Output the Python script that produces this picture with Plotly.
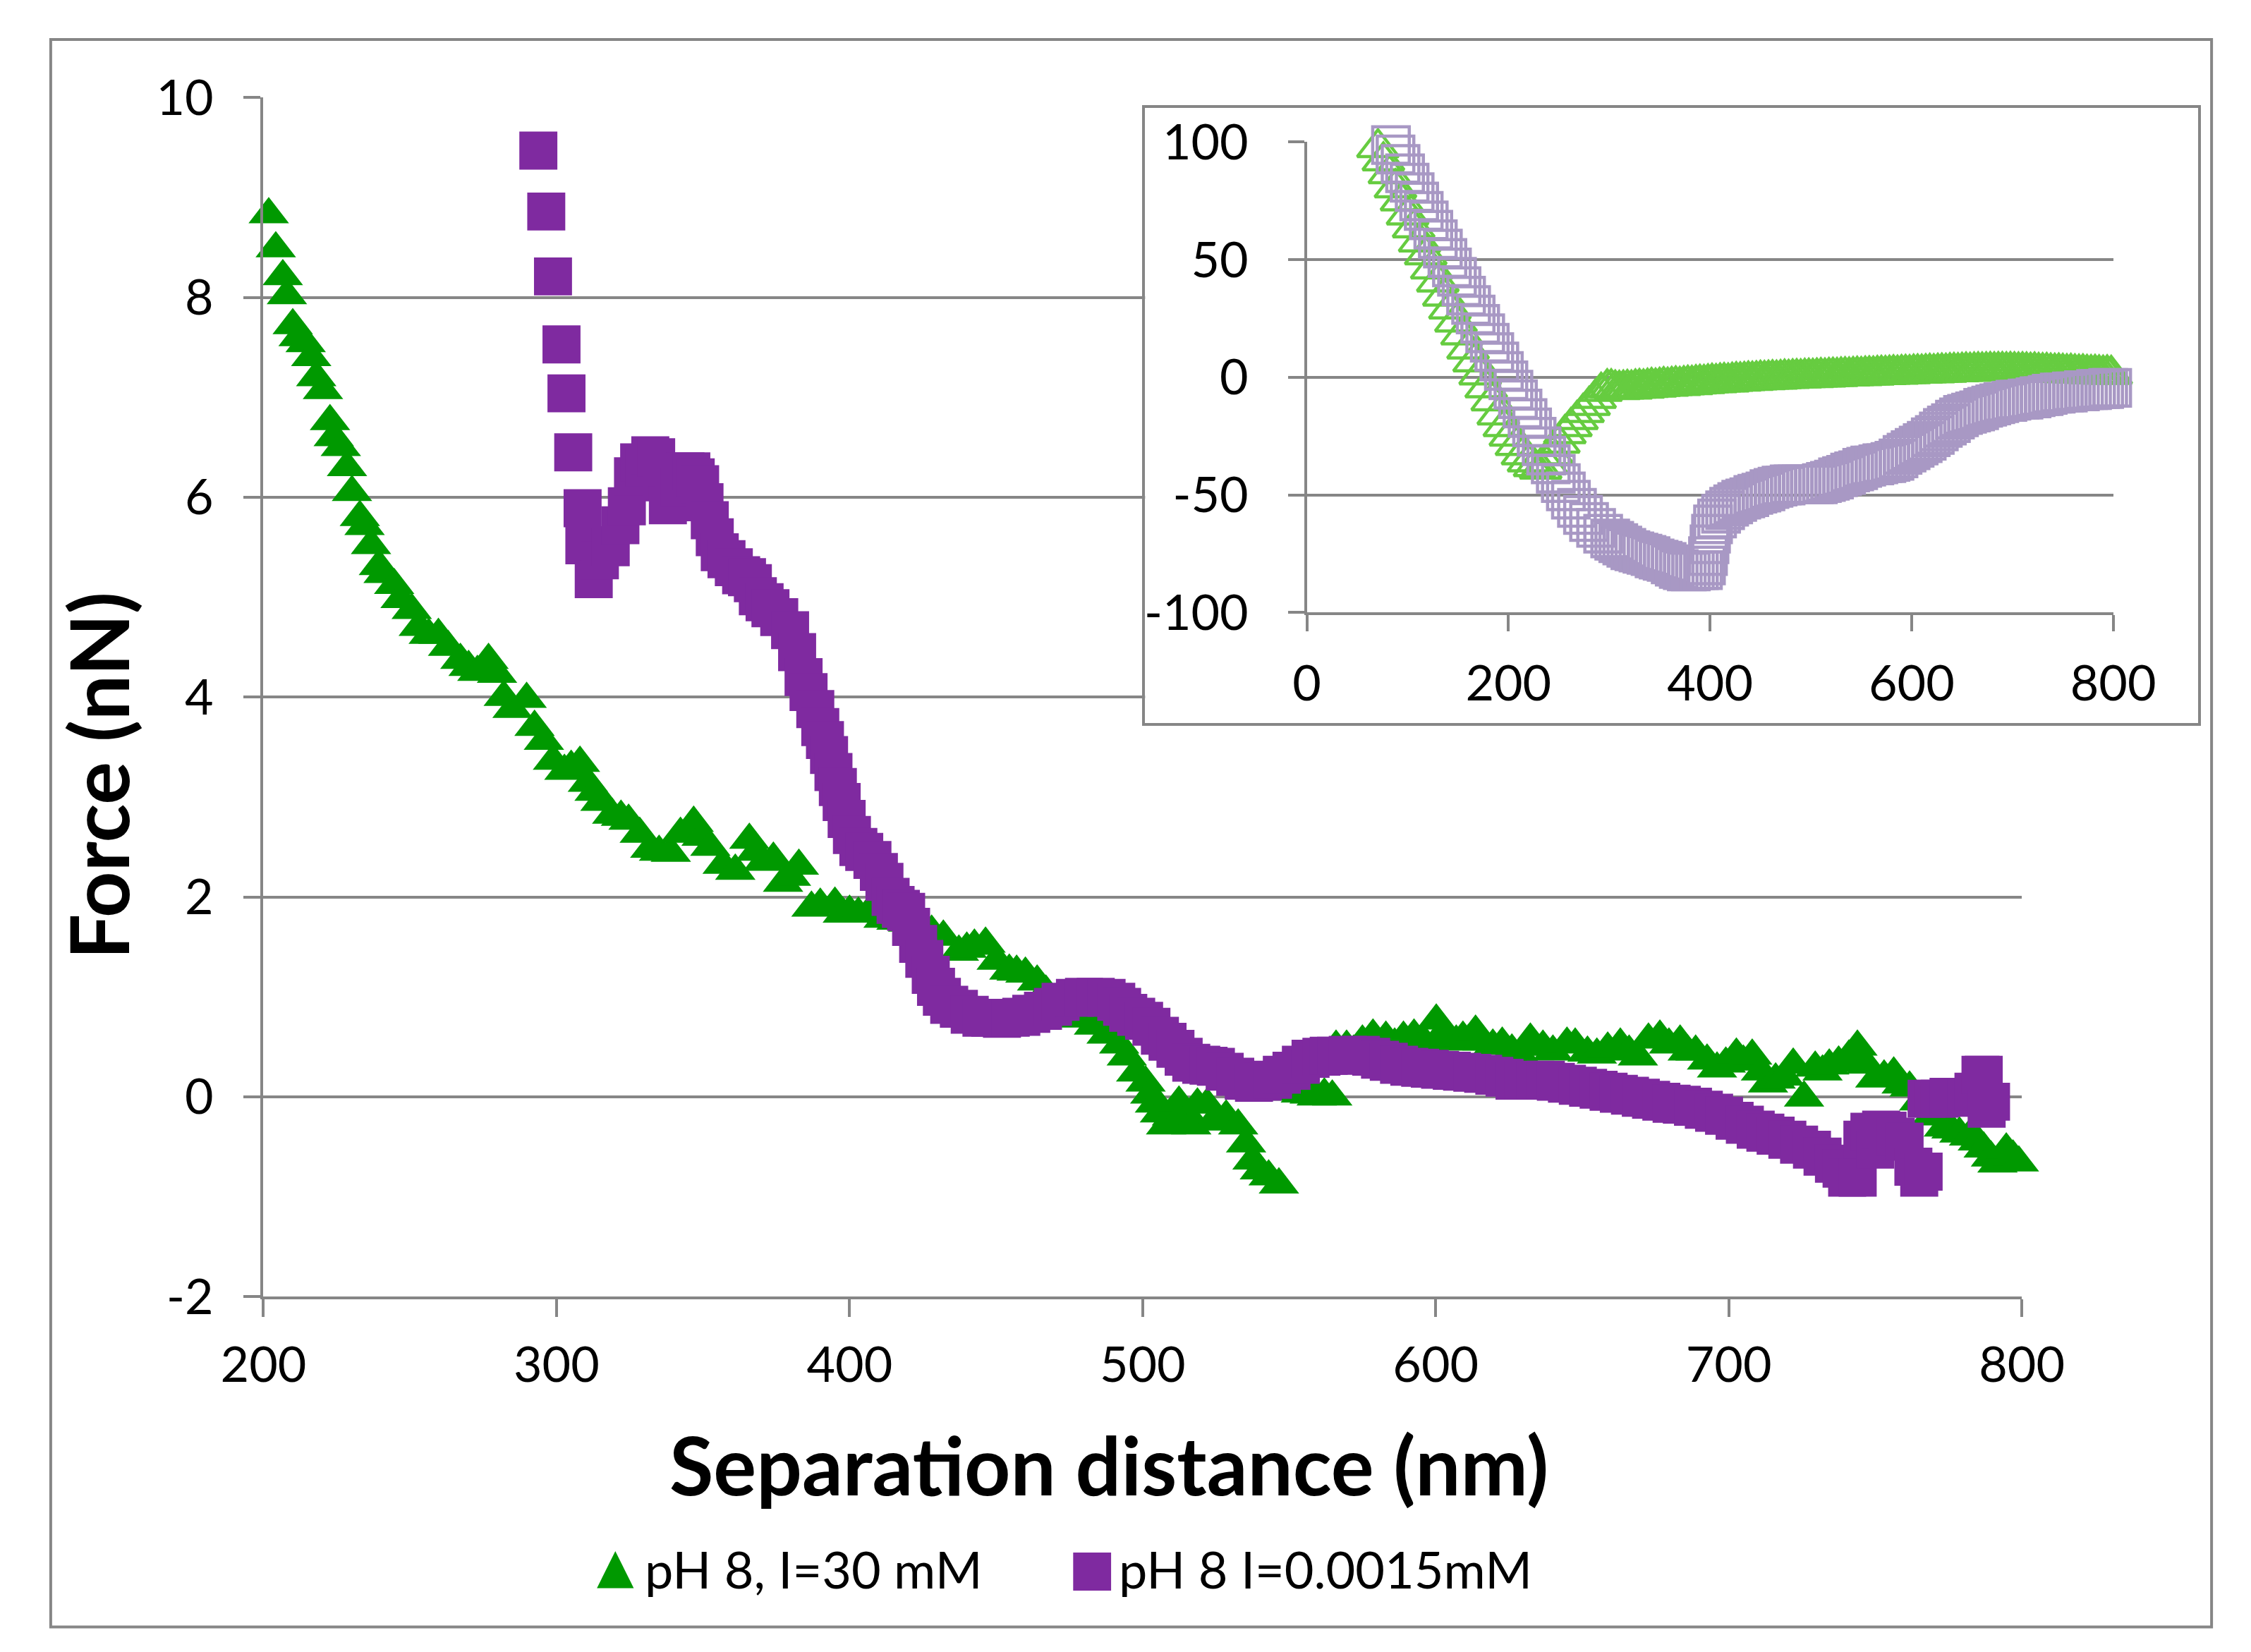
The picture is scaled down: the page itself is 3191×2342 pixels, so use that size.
import plotly.graph_objects as go

# ---------------- data: main chart ----------------
x_title = "Separation distance (nm)"
y_title = "Force (nN)"
series_names = ["pH 8, I=30 mM", "pH 8 I=0.0015mM"]

main_x_ticks = [200, 300, 400, 500, 600, 700, 800]
main_x_labels = ["200", "300", "400", "500", "600", "700", "800"]
main_y_ticks = [-2, 0, 2, 4, 6, 8, 10]
main_y_labels = ["-2", "0", "2", "4", "6", "8", "10"]
inset_x_ticks = [0, 200, 400, 600, 800]
inset_x_labels = ["0", "200", "400", "600", "800"]
inset_y_ticks = [-100, -50, 0, 50, 100]
inset_y_labels = ["-100", "-50", "0", "50", "100"]

green_x = [201.8, 204.2, 206.6, 208.0, 210.0, 212.0, 214.4, 216.3, 218.0, 220.3,
           222.7, 224.0, 226.4, 228.5, 230.2, 232.9, 234.5, 236.7, 239.4, 241.0,
           244.6, 246.8, 250.6, 253.0, 256.4, 259.7, 263.0, 267.2, 270.0, 273.0,
           276.8, 279.7, 282.0, 285.0, 289.8, 292.5, 295.7, 298.8, 302.7, 305.0,
           308.0, 310.7, 313.0, 315.0, 319.0, 322.0, 324.6, 328.4, 332.0, 335.0,
           339.0, 342.3, 346.8, 349.5, 352.5, 356.7, 361.0, 365.8, 368.0, 370.6,
           374.0, 377.3, 380.0, 382.7, 387.0, 390.0, 395.0, 397.7, 400.0, 403.0,
           407.3, 411.6, 416.0, 420.0, 424.0, 428.0, 432.0, 437.3, 440.0, 442.6,
           446.4, 450.2, 454.5, 457.0, 460.0, 464.0, 467.0, 470.0, 474.0, 478.0,
           483.4, 487.7, 492.0, 494.6, 497.8, 501.0, 502.6, 504.2, 505.9, 508.0,
           510.0, 512.4, 514.5, 516.6, 518.7, 522.0, 524.0, 528.5, 532.6, 535.3,
           537.5, 540.0, 543.0, 546.5, 548.0, 551.0, 554.0, 557.0, 559.4, 562.0,
           564.7, 566.0, 569.6, 572.0, 575.0, 578.6, 583.0, 586.0, 589.0, 592.6,
           596.0, 600.2, 602.0, 604.5, 607.0, 609.3, 611.0, 613.6, 616.0, 619.5,
           622.7, 626.0, 629.0, 632.3, 634.0, 636.6, 640.0, 644.8, 647.6, 651.8,
           655.0, 658.7, 663.0, 666.0, 669.0, 672.6, 676.5, 679.6, 683.4, 686.0,
           688.7, 692.6, 696.0, 699.0, 702.6, 705.0, 708.0, 711.0, 713.4, 716.0,
           719.0, 722.0, 725.7, 729.5, 732.0, 734.3, 737.5, 741.0, 743.9, 747.0,
           750.0, 753.0, 756.3, 759.0, 761.7, 765.0, 769.0, 773.4, 776.0, 778.7,
           782.0, 785.0, 787.0, 789.5, 791.7, 794.7, 797.0, 799.0, 800.5]
green_y = [8.83, 8.49, 8.21, 8.02, 7.72, 7.60, 7.54, 7.40, 7.20, 7.07,
           6.76, 6.60, 6.50, 6.30, 6.05, 5.80, 5.71, 5.52, 5.31, 5.23,
           5.12, 4.98, 4.87, 4.70, 4.62, 4.62, 4.50, 4.37, 4.30, 4.25,
           4.37, 4.23, 4.00, 3.88, 3.98, 3.70, 3.56, 3.36, 3.26, 3.30,
           3.34, 3.14, 3.05, 2.95, 2.82, 2.80, 2.76, 2.63, 2.48, 2.45,
           2.44, 2.63, 2.74, 2.60, 2.50, 2.32, 2.26, 2.57, 2.45, 2.35,
           2.38, 2.14, 2.20, 2.31, 1.89, 1.92, 1.93, 1.83, 1.85, 1.83,
           1.87, 1.78, 1.76, 1.74, 1.70, 1.65, 1.60, 1.45, 1.48, 1.51,
           1.53, 1.36, 1.26, 1.25, 1.23, 1.15, 1.05, 0.95, 0.88, 0.78,
           0.71, 0.62, 0.52, 0.40, 0.24, 0.14, 0.02, -0.07, -0.17, -0.29,
           -0.20, -0.06, -0.15, -0.29, -0.08, -0.08, -0.25, -0.20, -0.29, -0.47,
           -0.64, -0.74, -0.80, -0.88, 0.07, 0.05, 0.03, 0.02, 0.00, 0.02,
           0.00, 0.50, 0.50, 0.45, 0.55, 0.61, 0.59, 0.52, 0.59, 0.61,
           0.55, 0.76, 0.62, 0.59, 0.55, 0.59, 0.55, 0.65, 0.55, 0.51,
           0.53, 0.46, 0.41, 0.57, 0.50, 0.50, 0.45, 0.53, 0.52, 0.44,
           0.42, 0.48, 0.52, 0.45, 0.40, 0.57, 0.60, 0.52, 0.55, 0.45,
           0.45, 0.36, 0.28, 0.33, 0.42, 0.35, 0.41, 0.25, 0.13, 0.17,
           0.20, 0.32, -0.01, 0.29, 0.25, 0.31, 0.34, 0.40, 0.50, 0.32,
           0.18, 0.20, 0.23, 0.12, 0.09, -0.05, -0.20, -0.31, -0.33, -0.37,
           -0.40, -0.45, -0.52, -0.61, -0.67, -0.53, -0.60, -0.66, -0.70]

purple_x = [293.8, 296.5, 298.8, 301.7, 303.4, 305.7, 308.9, 309.5, 312.7, 314.8,
            318.5, 321.8, 324.0, 326.1, 328.2, 330.0, 332.0, 334.0, 336.0, 338.0,
            340.0, 342.0, 344.0, 346.0, 347.5, 349.0, 350.5, 352.3, 354.0, 355.7,
            358.0, 360.5, 363.0, 365.0, 367.0, 368.7, 371.0, 373.0, 376.0, 379.7,
            382.1, 384.3, 386.0, 388.3, 390.0, 391.6, 393.0, 394.5, 396.0, 397.3,
            399.0, 400.8, 403.0, 405.0, 407.8, 410.0, 411.9, 414.0, 415.7, 417.5,
            419.3, 421.0, 423.4, 425.5, 427.7, 429.5, 431.5, 434.0, 437.3, 441.0,
            445.0, 448.0, 452.0, 455.0, 458.6, 462.0, 466.0, 469.4, 472.0, 476.9,
            480.0, 484.0, 487.7, 491.0, 493.0, 495.1, 497.8, 500.5, 503.0, 505.9,
            508.5, 511.2, 514.0, 516.6, 520.0, 522.5, 525.0, 528.0, 531.6, 534.5,
            538.0, 541.0, 544.5, 547.5, 550.8, 554.0, 557.3, 561.0, 563.5, 566.0,
            570.0, 574.5, 578.0, 581.0, 584.0, 587.5, 591.0, 594.7, 598.0, 601.5,
            605.5, 609.0, 612.5, 616.2, 620.0, 623.5, 626.9, 630.0, 634.0, 637.6,
            641.0, 644.8, 648.5, 652.0, 655.6, 659.0, 662.5, 666.3, 670.0, 673.5,
            677.0, 680.5, 684.0, 687.8, 691.5, 695.0, 698.4, 702.0, 705.5, 709.2,
            712.5, 716.0, 720.0, 724.0, 728.4, 732.0, 735.9, 738.5, 740.4, 744.0,
            745.6, 748.0, 750.0, 752.0, 754.2, 757.0, 760.0, 763.0, 765.0, 766.5,
            767.5, 770.0, 772.0, 775.0, 778.0, 781.0, 783.5, 785.9, 787.0, 788.0,
            789.5]
purple_y = [9.47, 8.86, 8.21, 7.53, 7.04, 6.45, 5.89, 5.52, 5.18, 5.37,
            5.50, 5.72, 5.91, 6.21, 6.35, 6.30, 6.42, 6.40, 6.15, 5.92,
            5.95, 6.10, 6.26, 6.26, 6.20, 6.13, 5.95, 5.77, 5.60, 5.45,
            5.38, 5.30, 5.22, 5.20, 5.14, 5.01, 4.95, 4.89, 4.80, 4.67,
            4.45, 4.20, 4.05, 3.88, 3.70, 3.57, 3.42, 3.25, 3.10, 2.95,
            2.78, 2.62, 2.50, 2.45, 2.37, 2.25, 2.15, 2.00, 1.92, 1.88,
            1.85, 1.70, 1.53, 1.38, 1.22, 1.10, 1.00, 0.92, 0.88, 0.82,
            0.79, 0.79, 0.78, 0.79, 0.80, 0.83, 0.86, 0.90, 0.95, 0.99,
            1.00, 1.00, 0.99, 0.95, 0.90, 0.84, 0.80, 0.76, 0.70, 0.61,
            0.55, 0.48, 0.40, 0.34, 0.32, 0.31, 0.30, 0.25, 0.20, 0.16,
            0.14, 0.15, 0.17, 0.22, 0.26, 0.32, 0.38, 0.40, 0.41, 0.41,
            0.42, 0.42, 0.40, 0.37, 0.35, 0.32, 0.30, 0.29, 0.28, 0.27,
            0.26, 0.25, 0.24, 0.23, 0.21, 0.19, 0.16, 0.16, 0.17, 0.17,
            0.15, 0.13, 0.11, 0.09, 0.07, 0.05, 0.03, 0.01, -0.01, -0.03,
            -0.05, -0.07, -0.08, -0.10, -0.13, -0.16, -0.19, -0.24, -0.28, -0.33,
            -0.36, -0.39, -0.43, -0.48, -0.53, -0.60, -0.67, -0.72, -0.81, -0.81,
            -0.43, -0.35, -0.53, -0.33, -0.34, -0.40, -0.45, -0.70, -0.81, -0.75,
            -0.02, -0.02, -0.02, 0.00, -0.01, 0.00, 0.05, 0.22, 0.22, -0.12,
            -0.05]

# ---------------- data: inset ----------------
inset_green_x = [70.6, 76, 82, 88, 94, 100, 106, 112, 118, 124,
                 130, 136, 142, 148, 154, 160, 166, 172, 178, 184,
                 190, 196, 202, 208, 214, 220, 226, 232, 238, 244,
                 250, 256, 262, 268, 274, 280, 286, 292, 298,
                 302, 306, 310, 314, 318, 322, 326, 330, 334, 338,
                 342, 346, 350, 354, 358, 362, 366, 370, 374, 378,
                 382, 386, 390, 394, 398, 402, 406, 410, 414, 418,
                 422, 426, 430, 434, 438, 442, 446, 450, 454, 458,
                 462, 466, 470, 474, 478, 482, 486, 490, 494, 498,
                 502, 506, 510, 514, 518, 522, 526, 530, 534, 538,
                 542, 546, 550, 554, 558, 562, 566, 570, 574, 578,
                 582, 586, 590, 594, 598, 602, 606, 610, 614, 618,
                 622, 626, 630, 634, 638, 642, 646, 650, 654, 658,
                 662, 666, 670, 674, 678, 682, 686, 690, 694, 698,
                 702, 706, 710, 714, 718, 722, 726, 730, 734, 738,
                 742, 746, 750, 754, 758, 762, 766, 770, 774, 778,
                 782, 786, 790, 794, 798, 802]
inset_green_y = [97.6, 92, 86.5, 80.5, 75, 69, 63.5, 57.5, 52, 46,
                 40.5, 34.5, 29, 23.5, 18, 12, 6.5, 1, -4.5, -10,
                 -16, -21, -25, -29, -33, -36, -38, -39, -37, -33,
                 -28, -24, -21, -18, -15, -12, -9, -6, -4.5,
                 -4.5, -5.0, -5.2, -5.0, -4.8, -5.0, -4.6, -4.4, -4.6, -4.3,
                 -4.0, -4.2, -3.9, -3.6, -3.8, -3.5, -3.3, -3.5, -3.2, -3.0,
                 -3.1, -2.8, -2.6, -2.7, -2.4, -2.2, -2.3, -2.0, -1.9, -2.0,
                 -1.7, -1.5, -1.6, -1.4, -1.2, -1.3, -1.1, -0.9, -1.0, -0.8,
                 -0.7, -0.8, -0.6, -0.4, -0.5, -0.3, -0.2, -0.3, -0.1, 0.0,
                 -0.1, 0.1, 0.2, 0.1, 0.3, 0.4, 0.3, 0.5, 0.6, 0.5,
                 0.7, 0.8, 0.7, 0.9, 1.0, 0.9, 1.1, 1.2, 1.1, 1.3,
                 1.4, 1.3, 1.5, 1.6, 1.5, 1.7, 1.8, 1.7, 1.9, 2.0,
                 1.9, 2.1, 2.2, 2.1, 2.3, 2.4, 2.3, 2.5, 2.6, 2.5,
                 2.6, 2.7, 2.6, 2.7, 2.8, 2.7, 2.8, 2.8, 2.7, 2.8,
                 2.7, 2.6, 2.7, 2.6, 2.5, 2.6, 2.4, 2.3, 2.4, 2.2,
                 2.1, 2.2, 2.0, 1.9, 2.0, 1.8, 1.7, 1.8, 1.6, 1.5,
                 1.6, 1.4, 1.3, 1.4, 1.2, 1.0]

inset_purple_x = [83.5, 88, 93, 97.5, 102, 107, 111.5, 116, 121, 125.5,
                  130, 135, 139.5, 144, 149, 153.5, 158, 163, 167.5, 172,
                  177, 181.5, 186, 191, 195.5, 200, 205, 209.5, 214, 219,
                  223.5, 228, 233, 237.5, 242, 247, 252, 257, 262, 268,
                  274, 280, 287, 294,
                  301, 305, 309, 313, 317, 321, 325, 329, 333, 337,
                  341, 345, 349, 353, 357, 361, 365, 369, 373, 377,
                  381, 385, 389, 393, 396, 398, 399.5, 401, 403, 407,
                  411, 415, 419, 423, 427, 431, 435, 439, 443, 447,
                  451, 455, 459, 463, 467, 471, 475, 479, 483, 487,
                  491, 495, 499, 503, 507, 511, 515, 519, 523, 527,
                  531, 535, 539, 543, 547, 551, 555, 559, 563, 567,
                  571, 575, 579, 583, 587, 591, 595, 599, 603, 607,
                  611, 615, 619, 623, 627, 631, 635, 639, 643, 647,
                  651, 655, 659, 663, 667, 671, 675, 679, 683, 687,
                  691, 695, 699, 703, 707, 711, 715, 719, 723, 727,
                  731, 735, 739, 743, 747, 751, 755, 759, 763, 767,
                  771, 775, 779, 783, 787, 791, 795, 799, 803]
inset_purple_y = [98.7, 94.7, 90.7, 86.7, 82.7, 78.7, 74.7, 70.7, 66.7, 62.7,
                  58.7, 54.7, 50.7, 46.7, 42.7, 38.7, 34.7, 30.7, 26.7, 22.7,
                  18.7, 14.7, 10.7, 6.7, 2.7, -1.3, -5.3, -9.3, -13.3, -17.3,
                  -21.3, -25.3, -29.3, -33.3, -37, -41, -45, -48.5, -52, -55.5,
                  -58.5, -61.5, -64, -66.5,
                  -68.5, -69.5, -70.5, -71.5, -72.5, -73.5, -74, -74.5, -75, -75.5,
                  -76, -77, -77.5, -78, -78.5, -79.5, -80.5, -81.5, -82, -82.5,
                  -82.5, -82, -82, -82, -80, -76, -71, -66.5, -62.5, -60,
                  -58, -56.5, -55, -54, -53, -52, -51.5, -51, -50, -49.5,
                  -49, -48.5, -47.5, -47, -46.5, -46, -46, -45.5, -45.5, -45.5,
                  -45.5, -45.5, -45.5, -45.5, -45.5, -45, -44.5, -44, -43.5, -42.5,
                  -42, -41.5, -40.5, -40, -39.5, -38.5, -38, -37.5, -37.5, -37,
                  -36.5, -36.5, -36, -35.5, -34.5, -33, -32, -31, -30, -29,
                  -28, -27, -25.5, -24.5, -23, -21.5, -20.5, -19.5, -18, -17,
                  -16, -15.5, -15, -14.5, -14, -13, -12.5, -12, -11.5, -11,
                  -10.5, -10.5, -10, -9.5, -9.5, -9.5, -9, -9, -8.5, -8,
                  -8, -7.5, -7, -7, -6.5, -6.5, -6.5, -6, -6, -6,
                  -5.5, -5.5, -5.5, -5, -5, -5, -4.5, -4.5, -4.5]

# ---------------- layout geometry ----------------
W, H = 3191, 2342
# the page is photographed slightly reduced and offset; positions below are
# target picture pixels converted into figure pixels
S, OX, OY = 0.965, 62.5, 48.5


def fx(p):
    return (p - OX) / S


def fy(p):
    return (p - OY) / S


def px_x(p):
    return min(max(fx(p), 3), W - 3) / W


def px_y(p):
    return 1 - min(max(fy(p), 3), H - 3) / H


def sz(v):
    return v / S


GREEN = "#009900"
PURPLE = "#7F2AA0"
LGREEN = "#66CC40"
LAVENDER = "#A898C4"
GRID = "#868686"
FONT = "Lato, 'Open Sans', sans-serif"

fig = go.Figure()

# main series
fig.add_trace(go.Scatter(
    x=green_x, y=green_y, mode="markers", name=series_names[0],
    marker=dict(symbol="triangle-up", size=sz(48), color=GREEN, line=dict(width=0)),
    cliponaxis=False, xaxis="x", yaxis="y", showlegend=False))
fig.add_trace(go.Scatter(
    x=purple_x, y=purple_y, mode="markers", name=series_names[1],
    marker=dict(symbol="square", size=sz(52), color=PURPLE, line=dict(width=0)),
    cliponaxis=False, xaxis="x", yaxis="y", showlegend=False))

# empty trace that creates the inset frame subplot
fig.add_trace(go.Scatter(x=[], y=[], xaxis="x2", yaxis="y2", showlegend=False,
                         hoverinfo="skip"))

# inset series
fig.add_trace(go.Scatter(
    x=inset_green_x, y=inset_green_y, mode="markers", name=series_names[0],
    marker=dict(symbol="triangle-up-open", size=sz(49), color=LGREEN,
                line=dict(width=4.5, color=LGREEN)),
    cliponaxis=False, xaxis="x3", yaxis="y3", showlegend=False))
fig.add_trace(go.Scatter(
    x=inset_purple_x, y=inset_purple_y, mode="markers", name=series_names[1],
    marker=dict(symbol="square-open", size=sz(50), color=LAVENDER,
                line=dict(width=4.5, color=LAVENDER)),
    cliponaxis=False, xaxis="x3", yaxis="y3", showlegend=False))

tickfont = dict(family=FONT, size=70, color="black")
LW = 4
TL = sz(24)

fig.update_layout(
    width=W, height=H, autosize=False,
    margin=dict(l=0, r=0, t=0, b=0, pad=0),
    paper_bgcolor="white", plot_bgcolor="white",
    font=dict(family=FONT, color="black"),
    hovermode=False,
    showlegend=False,
    xaxis=dict(domain=[px_x(368), px_x(2869)], range=[200, 800], anchor="y",
               tickmode="array", tickvals=main_x_ticks, ticktext=main_x_labels,
               ticks="outside", ticklen=TL, tickwidth=LW, tickcolor=GRID,
               showgrid=False, zeroline=False, showline=True, linecolor=GRID,
               linewidth=LW, tickfont=tickfont, ticklabelstandoff=8),
    yaxis=dict(domain=[px_y(1836), px_y(134)], range=[-2, 10], anchor="x",
               tickmode="array", tickvals=main_y_ticks, ticktext=main_y_labels,
               ticks="outside", ticklen=TL, tickwidth=LW, tickcolor=GRID,
               showgrid=True, gridcolor=GRID, gridwidth=LW, zeroline=False,
               showline=True, linecolor=GRID, linewidth=LW, tickfont=tickfont,
               ticklabelstandoff=28),
    xaxis2=dict(domain=[px_x(1622), px_x(3120)], range=[0, 1], anchor="y2",
                showgrid=False, zeroline=False, showticklabels=False, ticks="",
                showline=True, mirror=True, linecolor=GRID, linewidth=LW,
                fixedrange=True),
    yaxis2=dict(domain=[px_y(1022), px_y(149)], range=[0, 1], anchor="x2",
                showgrid=False, zeroline=False, showticklabels=False, ticks="",
                showline=True, mirror=True, linecolor=GRID, linewidth=LW,
                fixedrange=True),
    xaxis3=dict(domain=[px_x(1852), px_x(2999)], range=[0, 800], anchor="y3",
                tickmode="array", tickvals=inset_x_ticks, ticktext=inset_x_labels,
                ticks="outside", ticklen=sz(22), tickwidth=LW, tickcolor=GRID,
                showgrid=False, zeroline=False, showline=True, linecolor=GRID,
                linewidth=LW, tickfont=tickfont, ticklabelstandoff=14),
    yaxis3=dict(domain=[px_y(865), px_y(197)], range=[-100, 100], anchor="x3",
                tickmode="array", tickvals=inset_y_ticks, ticktext=inset_y_labels,
                ticks="outside", ticklen=sz(22), tickwidth=LW, tickcolor=GRID,
                showgrid=True, gridcolor=GRID, gridwidth=LW, zeroline=False,
                showline=True, linecolor=GRID, linewidth=LW, tickfont=tickfont,
                ticklabelstandoff=42),
)

# outer frame
fig.add_shape(type="rect", xref="paper", yref="paper",
              x0=px_x(51), x1=px_x(3150), y0=px_y(2305), y1=px_y(41),
              line=dict(color=GRID, width=LW), fillcolor="rgba(0,0,0,0)",
              layer="below")

title_font = dict(family=FONT, size=114, color="black", weight="bold")
fig.add_annotation(text=x_title, xref="paper", yref="paper",
                   x=px_x(1571), y=px_y(2074), showarrow=False,
                   xanchor="center", yanchor="middle", font=title_font)
fig.add_annotation(text=y_title, xref="paper", yref="paper",
                   x=px_x(132), y=px_y(1097), showarrow=False, textangle=-90,
                   xanchor="center", yanchor="middle", font=title_font)

# legend (keys as glyphs + labels)
legend_font = dict(family=FONT, size=72, color="black")
glyph_font = "DejaVu Sans, sans-serif"
fig.add_annotation(text="▲", xref="paper", yref="paper", x=px_x(869),
                   y=px_y(2218), showarrow=False, xanchor="center",
                   yanchor="middle",
                   font=dict(family=glyph_font, size=sz(66), color=GREEN))
fig.add_annotation(text=series_names[0], xref="paper", yref="paper",
                   x=px_x(908), y=px_y(2222), showarrow=False,
                   xanchor="left", yanchor="middle", font=legend_font)
fig.add_annotation(text="■", xref="paper", yref="paper", x=px_x(1547),
                   y=px_y(2220), showarrow=False, xanchor="center",
                   yanchor="middle",
                   font=dict(family=glyph_font, size=sz(68), color=PURPLE))
fig.add_annotation(text=series_names[1], xref="paper", yref="paper",
                   x=px_x(1583), y=px_y(2222), showarrow=False,
                   xanchor="left", yanchor="middle", font=legend_font)

fig.write_html("out.html")
